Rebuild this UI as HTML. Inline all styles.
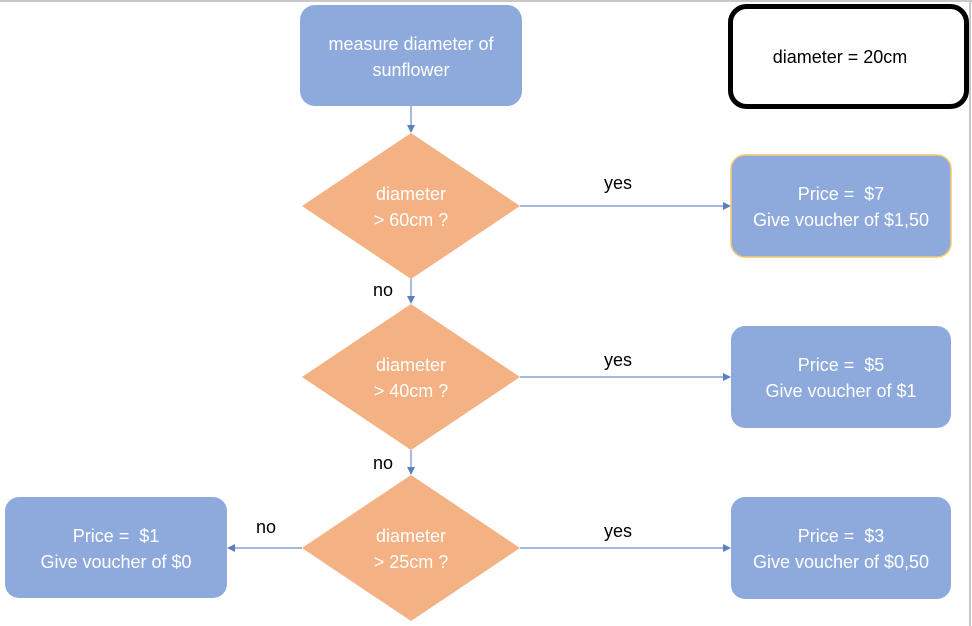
<!DOCTYPE html>
<html><head><meta charset="utf-8"><style>
html,body{margin:0;padding:0;background:#fff;width:972px;height:626px;overflow:hidden}
svg{display:block}
text{font-family:"Liberation Sans",sans-serif;font-size:18px}
.w{fill:#fff}.k{fill:#000}
</style></head><body>
<svg width="972" height="626" viewBox="0 0 972 626">
<defs><marker id="a" markerWidth="8" markerHeight="8" refX="7" refY="4" orient="auto" markerUnits="userSpaceOnUse"><path d="M0,0L8,4L0,8z" fill="#5b7fc0"/></marker></defs>
<line x1="0" y1="1" x2="972" y2="1" stroke="#c8c8c8" stroke-width="2"/>
<line x1="970" y1="0" x2="970" y2="626" stroke="#c8c8c8" stroke-width="2"/>
<g stroke="#6f8fca" stroke-width="1.2" fill="none" marker-end="url(#a)">
<line x1="411" y1="106" x2="411" y2="132"/>
<line x1="411" y1="278" x2="411" y2="303"/>
<line x1="411" y1="450" x2="411" y2="474"/>
<line x1="520" y1="206" x2="730" y2="206"/>
<line x1="520" y1="377" x2="730" y2="377"/>
<line x1="520" y1="548" x2="730" y2="548"/>
<line x1="302" y1="548" x2="228" y2="548"/>
</g>
<rect x="300" y="5" width="222" height="101" rx="15" fill="#8eaadc"/>
<text class="w" x="411" y="50" text-anchor="middle">measure diameter of</text>
<text class="w" x="411" y="76" text-anchor="middle">sunflower</text>
<rect x="730.5" y="6.5" width="236" height="100" rx="16" fill="#fff" stroke="#000" stroke-width="5"/>
<text class="k" x="840" y="63" text-anchor="middle">diameter = 20cm</text>
<polygon points="411,133 520,206 411,279 302,206" fill="#f4b183"/>
<polygon points="411,304 520,377 411,450 302,377" fill="#f4b183"/>
<polygon points="411,475 520,548 411,621 302,548" fill="#f4b183"/>
<text class="w" x="411" y="200" text-anchor="middle">diameter</text>
<text class="w" x="411" y="226" text-anchor="middle">&gt; 60cm ?</text>
<text class="w" x="411" y="371" text-anchor="middle">diameter</text>
<text class="w" x="411" y="397" text-anchor="middle">&gt; 40cm ?</text>
<text class="w" x="411" y="542" text-anchor="middle">diameter</text>
<text class="w" x="411" y="568" text-anchor="middle">&gt; 25cm ?</text>
<rect x="731" y="155" width="220" height="102" rx="14" fill="#8eaadc" stroke="#f7c86a" stroke-width="1.5"/>
<text class="w" x="841" y="200" text-anchor="middle">Price =&#160; $7</text>
<text class="w" x="841" y="226" text-anchor="middle">Give voucher of $1,50</text>
<rect x="731" y="326" width="220" height="102" rx="14" fill="#8eaadc"/>
<text class="w" x="841" y="371" text-anchor="middle">Price =&#160; $5</text>
<text class="w" x="841" y="397" text-anchor="middle">Give voucher of $1</text>
<rect x="731" y="497" width="220" height="102" rx="14" fill="#8eaadc"/>
<text class="w" x="841" y="542" text-anchor="middle">Price =&#160; $3</text>
<text class="w" x="841" y="568" text-anchor="middle">Give voucher of $0,50</text>
<rect x="5" y="497" width="222" height="101" rx="14" fill="#8eaadc"/>
<text class="w" x="116" y="542" text-anchor="middle">Price =&#160; $1</text>
<text class="w" x="116" y="568" text-anchor="middle">Give voucher of $0</text>
<text class="k" x="618" y="189" text-anchor="middle">yes</text>
<text class="k" x="618" y="366" text-anchor="middle">yes</text>
<text class="k" x="618" y="537" text-anchor="middle">yes</text>
<text class="k" x="383" y="296" text-anchor="middle">no</text>
<text class="k" x="383" y="469" text-anchor="middle">no</text>
<text class="k" x="266" y="533" text-anchor="middle">no</text>
</svg>
</body></html>
